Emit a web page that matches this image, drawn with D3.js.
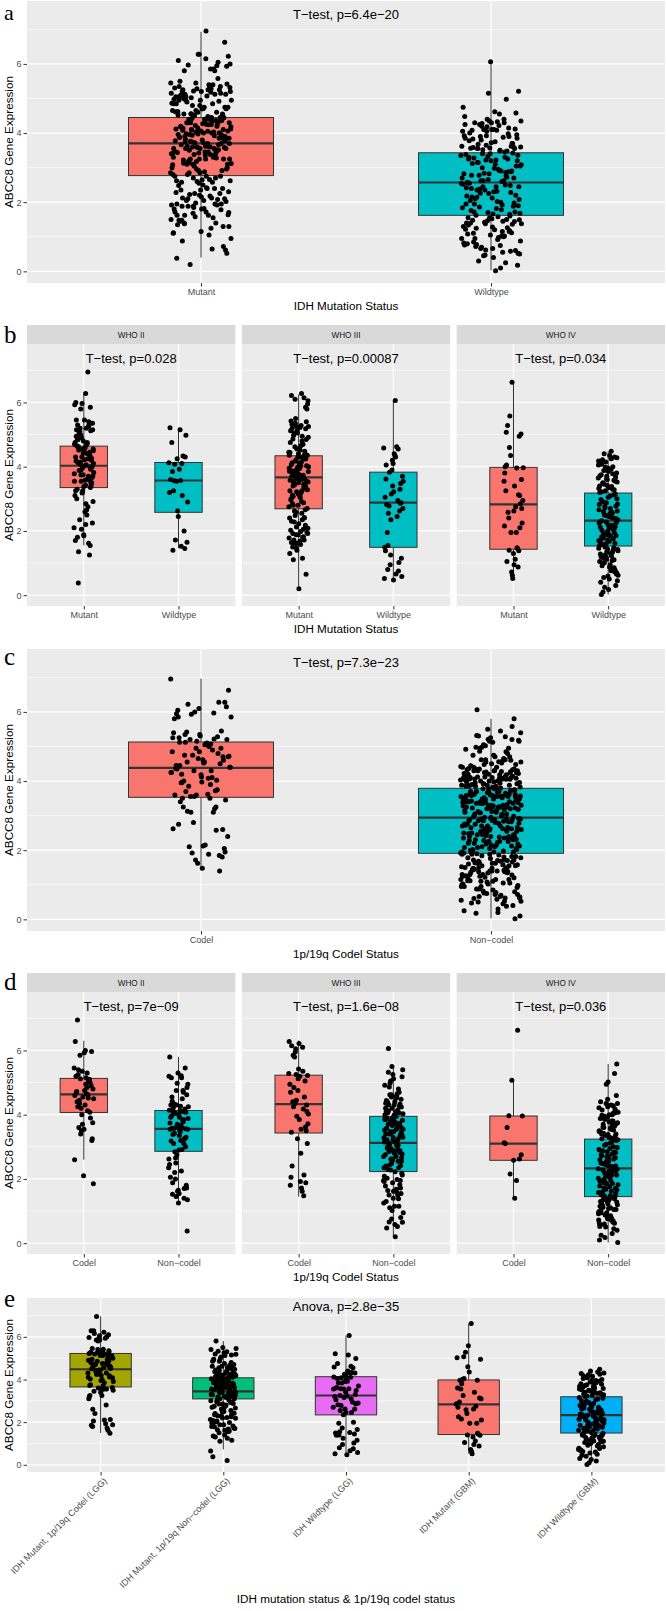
<!DOCTYPE html>
<html><head><meta charset="utf-8">
<script src="https://cdn.jsdelivr.net/npm/d3@7"></script>
<style>
body{margin:0;background:#fff}
svg{display:block}
</style>
</head><body>
<svg id="c" width="666" height="1611"></svg>
<script>
// ---------- DATA: ABCC8 expression per sample, by subgroup (estimated from the figure) ----------
const mutCodelG2 = [4.62,5.12,3.75,4.30,6.95,4.08,5.35,2.60,4.85,4.45,5.97,3.55,4.70,5.05,4.20,1.85,4.95,5.25,3.90,4.55,6.28,4.12,5.85,3.25,4.75,4.40,5.10,4.00,5.45,4.65,3.60,4.90,2.10,5.20,4.52,3.40,4.80,6.00,4.25,5.00,3.70,4.60,5.30,4.35,3.20,5.93,4.72,5.08,3.50,4.50,5.15,5.40];
const mutNonG2 = [3.55,4.10,2.85,0.38,3.92,4.55,1.70,3.62,5.20,2.25,4.03,3.30,1.25,4.30,3.78,2.65,4.95,3.48,1.88,4.18,3.70,5.80,2.92,3.42,4.62,1.55,3.96,3.10,4.75,2.35,3.66,4.22,3.00,5.30,2.05,3.82,4.06,1.35,3.52,4.42,3.25,2.75,4.14,5.15,3.58,1.80,4.00,3.18,4.70,2.50,3.88,4.26,3.38,5.45,1.62,3.74,4.50,2.20,4.85,3.35];
const wtG2 = [3.57,1.40,4.30,2.62,5.21,3.10,4.08,1.65,3.92,4.75,2.00,3.55,4.12,1.52,3.25,4.98,2.45,3.60,4.33,1.72,2.90,5.15,3.85,1.45,4.25,3.20,4.10,3.56];
const mutCodelG3 = [4.30,6.22,3.45,1.48,5.25,4.02,2.80,5.85,3.62,4.75,1.80,6.10,4.36,3.10,5.20,2.40,4.55,3.95,6.28,1.72,4.85,3.50,5.42,2.05,4.18,6.05,3.72,1.92,4.40,5.05,3.25,4.95,1.62,5.80,4.10,3.85,6.15,2.12,4.45,5.28,3.55,4.25,1.88,5.12,4.70,5.35,5.95,5.22];
const mutNonG3 = [3.12,4.48,1.62,3.86,2.55,5.05,3.30,0.20,4.06,2.88,3.66,4.92,1.98,3.40,2.18,4.30,3.58,1.15,4.62,2.70,3.94,5.32,2.42,3.22,1.78,4.15,3.48,0.65,4.40,2.96,3.73,5.50,2.08,3.04,1.50,4.24,3.82,1.30,4.80,2.62,3.55,4.56,2.30,3.36,1.88,4.00,3.18,1.10,5.18,2.80,3.90,4.70,2.48,3.28,1.68,4.12,3.62,1.40,4.36,2.92,3.78,5.40,2.22,3.00,1.82,4.20,3.52,1.58,4.86,2.66,3.98,4.44,2.35,3.44,1.95,4.09,3.70,1.72,5.25,2.75,3.60,4.98,2.12,3.15,2.02,4.27,3.88,1.92,4.52,2.85,3.45,5.12,2.40,3.25,2.28,4.03,3.76,1.64,4.33,2.58,3.85,4.65,3.08,3.38];
const wtG3 = [2.88,0.47,3.62,4.55,1.25,2.70,6.06,0.80,3.30,4.20,1.49,2.45,3.83,0.58,4.40,2.82,1.02,3.15,4.58,0.66,2.55,3.48,4.10,1.38,2.95,0.95,3.70,4.35,1.95,2.62,3.90,0.52,4.62,2.78,1.15,3.22,4.05,0.75,2.35,3.55,4.30,1.55,2.86,3.40,3.05];
const mutCodelG4 = [3.10,6.63,2.15,3.96,1.40,3.60,2.62,5.07,3.13,1.95,3.97,2.75,2.58];
const mutNonG4 = [2.85,0.52,4.00,1.45,5.58,2.25,3.40,1.05,4.95,0.72,3.55,1.95,2.40,5.02,1.30,3.25,0.88,4.35,2.95,1.12,5.28,2.10,0.62,3.80,1.48,4.60,2.70,0.95,4.05,1.38];
const wtG4 = [2.32,0.85,3.62,1.70,4.48,1.15,2.78,3.95,0.40,2.05,3.25,1.42,2.55,4.22,0.72,1.88,3.40,2.18,1.02,3.80,2.45,0.02,3.12,1.60,4.05,1.30,2.90,3.55,0.60,2.12,3.30,1.50,2.62,4.35,0.92,1.95,3.70,2.25,1.22,3.88,2.38,0.18,2.98,1.76,4.15,1.38,2.70,3.48,0.78,1.98,3.20,1.08,2.50,4.28,0.50,1.82,3.58,2.28,1.46,3.92,2.60,0.30,3.05,1.66,4.00,1.26,2.84,3.35,0.98,2.10,3.42,1.55,2.42,4.40,0.66,1.90,3.75,2.15,1.18,3.65,2.52,0.10,3.15,1.72,4.10,1.34,2.76,3.52,0.88,2.02,3.28,1.12,2.66,4.25,0.55,1.86,3.85,2.30,1.40,3.98,2.35,0.95,2.92,1.62,3.60,1.05,2.58,3.45,0.70,2.08,3.22,1.48,2.48,4.18,0.82,1.78,3.68,2.20,1.28,3.78,2.72,0.45,3.08,1.58,4.30,1.36,2.82,3.38,1.00,2.26,3.36,1.20,2.40,3.90,0.62,1.84,3.50,2.14,1.44,3.72,2.56,0.25,3.00,1.68,4.08,1.10,2.88,3.32,0.76,1.92];

// ---------- categories, labels, ticks ----------
const idhCats = ["Mutant", "Wildtype"];
const codelCats = ["Codel", "Non\u2212codel"];
const gradeLabels = ["WHO II", "WHO III", "WHO IV"];
const comboCats = ["IDH Mutant, 1p/19q Codel (LGG)", "IDH Mutant, 1p/19q Non\u2212codel (LGG)", "IDH Wildtype (LGG)", "IDH Mutant (GBM)", "IDH Wildtype (GBM)"];
const yTicks = [0, 2, 4, 6];
const yMinor = [1, 3, 5, 7];

// ---------- box statistics [lower whisker, Q1, median, Q3, upper whisker] ----------
const boxA = [[0.40,2.77,3.70,4.45,6.93],[0.03,1.62,2.57,3.43,6.04]];
const boxB = [[[1.55,3.35,4.03,4.64,6.25],[1.46,2.58,3.57,4.13,5.21]],
              [[0.22,2.69,3.67,4.34,6.25],[0.47,1.49,2.88,3.83,6.06]],
              [[0.52,1.43,2.83,3.98,6.61],[0.02,1.53,2.32,3.18,4.48]]];
const boxC = [[1.42,3.53,4.38,5.13,6.96],[0.03,1.91,2.94,3.79,5.80]];
const boxD = [[[2.60,4.07,4.63,5.13,6.30],[1.29,2.86,3.56,4.13,5.80]],
              [[1.45,3.43,4.33,5.23,6.31],[0.20,2.23,3.12,3.95,5.54]],
              [[1.40,2.58,3.10,3.96,5.07],[0.02,1.45,2.33,3.24,5.58]]];
const boxE = [[1.49,3.65,4.48,5.22,6.96],[0.72,3.09,3.44,4.08,5.80],[0.42,2.34,3.25,4.13,6.06],[0.52,1.42,2.83,3.98,6.63],[0.08,1.49,2.33,3.19,4.48]];

// ---------- test labels ----------
const testA = "T\u2212test, p=6.4e\u221220";
const testB = ["T\u2212test, p=0.028", "T\u2212test, p=0.00087", "T\u2212test, p=0.034"];
const testC = "T\u2212test, p=7.3e\u221223";
const testD = ["T\u2212test, p=7e\u221209", "T\u2212test, p=1.6e\u221208", "T\u2212test, p=0.036"];
const testE = "Anova, p=2.8e\u221235";

// ---------- derived groups ----------
const cat = (...a) => [].concat(...a);
const groupsA = [cat(mutCodelG2, mutNonG2, mutCodelG3, mutNonG3, mutCodelG4, mutNonG4), cat(wtG2, wtG3, wtG4)];
const groupsB = [[cat(mutCodelG2, mutNonG2), wtG2], [cat(mutCodelG3, mutNonG3), wtG3], [cat(mutCodelG4, mutNonG4), wtG4]];
const groupsC = [cat(mutCodelG2, mutCodelG3, mutCodelG4), cat(mutNonG2, wtG2, mutNonG3, wtG3, mutNonG4, wtG4)];
const groupsD = [[mutCodelG2, cat(mutNonG2, wtG2)], [mutCodelG3, cat(mutNonG3, wtG3)], [mutCodelG4, cat(mutNonG4, wtG4)]];
const groupsE = [cat(mutCodelG2, mutCodelG3), cat(mutNonG2, mutNonG3), cat(wtG2, wtG3), cat(mutCodelG4, mutNonG4), wtG4];

// ---------- drawing ----------
const SANS = "'Liberation Sans', Arial, Helvetica, sans-serif";
const svg = d3.select("#c");
const yDom = [-0.337, 7.82];
const col2 = ["#F8766D", "#00BFC4"];
const col5 = ["#A3A500", "#00BF7D", "#E76BF3", "#F8766D", "#00B0F6"];
const X0 = 27, X1 = 665, GAP = 6.5;
const facetW = (X1 - X0 - 2 * GAP) / 3;
const facetX = [0, 1, 2].map(i => [X0 + i * (facetW + GAP), X0 + i * (facetW + GAP) + facetW]);
const jit = (j, seed) => ((((j * 0.6180339887) + seed) % 1) - 0.5) * 2 * 0.105;

function drawFacet(o) {
  const g = svg.append("g");
  const x = d3.scalePoint().domain(o.cats).range([o.x0, o.x1]).padding(0.6);
  const y = d3.scaleLinear().domain(yDom).range([o.bottom, o.top]);
  const step = x.step();
  g.append("rect").attr("x", o.x0).attr("y", o.top).attr("width", o.x1 - o.x0).attr("height", o.bottom - o.top).attr("fill", "#EBEBEB");
  g.selectAll(null).data(yMinor.filter(v => y(v) > o.top)).join("line")
    .attr("x1", o.x0).attr("x2", o.x1).attr("y1", d => y(d)).attr("y2", d => y(d))
    .attr("stroke", "#fff").attr("stroke-width", 0.6);
  g.selectAll(null).data(yTicks).join("line")
    .attr("x1", o.x0).attr("x2", o.x1).attr("y1", d => y(d)).attr("y2", d => y(d))
    .attr("stroke", "#fff").attr("stroke-width", 1.2);
  g.selectAll(null).data(o.cats).join("line")
    .attr("x1", d => x(d)).attr("x2", d => x(d)).attr("y1", o.top).attr("y2", o.bottom)
    .attr("stroke", "#fff").attr("stroke-width", 1.2);

  const bw = step * 0.5;
  o.boxes.forEach((b, i) => {
    const cx = x(o.cats[i]);
    g.append("line").attr("x1", cx).attr("x2", cx).attr("y1", y(b[0])).attr("y2", y(b[1])).attr("stroke", "#333").attr("stroke-width", 1);
    g.append("line").attr("x1", cx).attr("x2", cx).attr("y1", y(b[3])).attr("y2", y(b[4])).attr("stroke", "#333").attr("stroke-width", 1);
    g.append("rect").attr("x", cx - bw / 2).attr("y", y(b[3])).attr("width", bw).attr("height", y(b[1]) - y(b[3]))
      .attr("fill", o.colors[i]).attr("stroke", "#333").attr("stroke-width", 1);
    g.append("line").attr("x1", cx - bw / 2).attr("x2", cx + bw / 2).attr("y1", y(b[2])).attr("y2", y(b[2])).attr("stroke", "#333").attr("stroke-width", 2.2);
  });

  o.groups.forEach((arr, i) => {
    const cx = x(o.cats[i]);
    const seed = (o.seed + i * 0.37) % 1;
    g.selectAll(null).data(arr).join("circle")
      .attr("cx", (d, j) => cx + jit(j, seed) * step)
      .attr("cy", d => y(d)).attr("r", 2.5).attr("fill", "#000");
  });

  g.append("text").attr("x", (o.x0 + o.x1) / 2).attr("y", o.top + o.titleDy).attr("text-anchor", "middle")
    .attr("font-family", SANS).attr("font-size", 13).attr("fill", "#000").text(o.title);

  const ax = g.append("g").attr("transform", `translate(0,${o.bottom})`)
    .call(d3.axisBottom(x).tickSize(3.5).tickPadding(2.5));
  ax.select(".domain").remove();
  ax.attr("font-family", SANS).attr("font-size", 9);
  ax.selectAll("line").attr("stroke", "#333");
  ax.selectAll("text").attr("fill", "#4D4D4D");
  if (o.rotate) {
    ax.selectAll("text").attr("x", 0).attr("y", 0).attr("dy", "0.71em").attr("text-anchor", "end")
      .attr("transform", "translate(2,5) rotate(-45)");
  }

  if (o.showY) {
    const ay = g.append("g").attr("transform", `translate(${o.x0},0)`)
      .call(d3.axisLeft(y).tickValues(yTicks).tickSize(3.5).tickPadding(2).tickFormat(d3.format("d")));
    ay.select(".domain").remove();
    ay.attr("font-family", SANS).attr("font-size", 9);
    ay.selectAll("line").attr("stroke", "#333");
    ay.selectAll("text").attr("fill", "#4D4D4D");
    svg.append("text").attr("transform", `translate(13,${(o.top + o.bottom) / 2}) rotate(-90)`)
      .attr("text-anchor", "middle").attr("font-family", SANS).attr("font-size", 11.7).attr("fill", "#000")
      .text("ABCC8 Gene Expression");
  }

  if (o.strip) {
    g.append("rect").attr("x", o.x0).attr("y", o.top - 19).attr("width", o.x1 - o.x0).attr("height", 19).attr("fill", "#D9D9D9");
    g.append("text").attr("x", (o.x0 + o.x1) / 2).attr("y", o.top - 9.5 + 3).attr("text-anchor", "middle")
      .attr("font-family", SANS).attr("font-size", 8.2).attr("fill", "#1A1A1A").text(o.strip);
  }
}

function letter(ch, yb, fs) {
  svg.append("text").attr("x", 4).attr("y", yb).attr("font-family", "'Liberation Serif', 'Times New Roman', serif")
    .attr("font-size", fs).attr("fill", "#000").text(ch);
}
function xTitle(t, yb) {
  svg.append("text").attr("x", (X0 + X1) / 2).attr("y", yb).attr("text-anchor", "middle")
    .attr("font-family", SANS).attr("font-size", 11.7).attr("fill", "#000").text(t);
}

// panel a
drawFacet({x0: X0, x1: X1, top: 1, bottom: 283, cats: idhCats, groups: groupsA, boxes: boxA, colors: col2,
  title: testA, titleDy: 17.5, showY: true, seed: 0.11});
letter("a", 19.5, 22); xTitle("IDH Mutation Status", 309.5);

// panel b
[0, 1, 2].forEach(i => drawFacet({x0: facetX[i][0], x1: facetX[i][1], top: 344, bottom: 606, cats: idhCats,
  groups: groupsB[i], boxes: boxB[i], colors: col2, title: testB[i], titleDy: 18.7, showY: i === 0,
  strip: gradeLabels[i], seed: 0.23 + i * 0.29}));
letter("b", 343, 25); xTitle("IDH Mutation Status", 633);

// panel c
drawFacet({x0: X0, x1: X1, top: 649, bottom: 931, cats: codelCats, groups: groupsC, boxes: boxC, colors: col2,
  title: testC, titleDy: 18, showY: true, seed: 0.53});
letter("c", 665, 25); xTitle("1p/19q Codel Status", 958);

// panel d
[0, 1, 2].forEach(i => drawFacet({x0: facetX[i][0], x1: facetX[i][1], top: 992, bottom: 1254, cats: codelCats,
  groups: groupsD[i], boxes: boxD[i], colors: col2, title: testD[i], titleDy: 19, showY: i === 0,
  strip: gradeLabels[i], seed: 0.71 + i * 0.19}));
letter("d", 990, 25); xTitle("1p/19q Codel Status", 1281);

// panel e
drawFacet({x0: X0, x1: X1, top: 1298, bottom: 1472, cats: comboCats, groups: groupsE, boxes: boxE, colors: col5,
  title: testE, titleDy: 13, showY: true, rotate: true, seed: 0.87});
letter("e", 1307, 25); xTitle("IDH mutation status & 1p/19q codel status", 1603);
</script>
</body></html>
